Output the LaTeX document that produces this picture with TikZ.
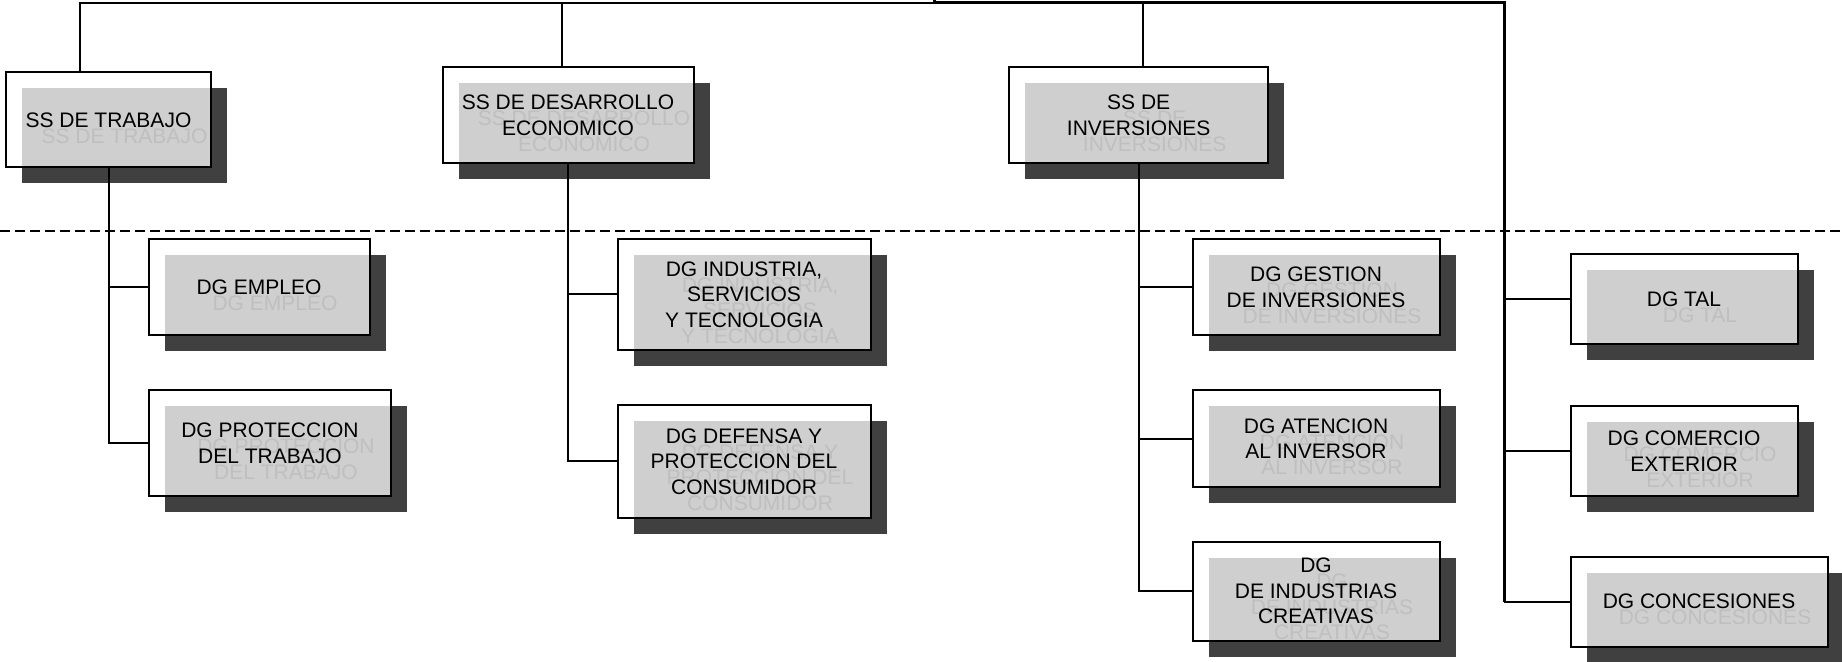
\documentclass[tikz,border=0pt]{standalone}
\usepackage{fontspec}
\setmainfont{Liberation Sans}
\usetikzlibrary{calc}

\tikzset{
    orgbox/.style={draw, line width=1pt, fill=white, fill opacity=0.75, text opacity=1,
        align=center, inner sep=0pt, font=\fontsize{10.5}{12.8}\selectfont},
    orgshadow/.style={fill=black!75, text=black, align=center, inner sep=0pt,
        font=\fontsize{10.5}{12.8}\selectfont},
    link/.style={line width=1pt},
    trunk/.style={line width=1.5pt},
    sep/.style={line width=1pt, dash pattern=on 5pt off 2.5pt}
}

\begin{document}
\begin{tikzpicture}[x=0.5pt, y=-0.5pt]
    \useasboundingbox (0,0) rectangle (1842,662);

    % boxes: name / centre / size / text
    \foreach \n/\x/\y/\w/\h/\txt in {
        trab/108.5/120/205/95/{SS DE TRABAJO},
        des/568/115.5/251/96/{SS DE DESARROLLO\\ECONOMICO},
        inv/1138.7/115.5/259/96/{SS DE\\INVERSIONES},
        emp/259/287/221/96/{DG EMPLEO},
        prot/270/443/242/106/{DG PROTECCION\\DEL TRABAJO},
        ind/744/294.5/253/111/{DG INDUSTRIA,\\SERVICIOS\\Y TECNOLOGIA},
        def/744/461.5/253/112/{DG DEFENSA Y\\PROTECCION DEL\\CONSUMIDOR},
        ges/1316/287/247/96/{DG GESTION\\DE INVERSIONES},
        ate/1316/438.7/247/97/{DG ATENCION\\AL INVERSOR},
        cre/1316/591/247/99/{DG\\DE INDUSTRIAS\\CREATIVAS},
        tal/1684/299.2/227/90/{DG TAL},
        com/1684/451/227/90/{DG COMERCIO\\EXTERIOR},
        con/1699/601.7/257/90/{DG CONCESIONES}}{
        \node[orgshadow, minimum width=\w*0.5pt, minimum height=\h*0.5pt] at (\x+16,\y+16) {\txt};
        \node[orgbox, minimum width=\w*0.5pt, minimum height=\h*0.5pt] (\n) at (\x,\y) {\txt};
    }

    \draw[sep] (0,230.7) -- (1842,230.7);

    % top bar
    \coordinate (root) at (934,0);
    \coordinate (bar) at (934,3);
    \draw[link] (bar) -| ($(trab.north)+(-28.5,0)$);
    \draw[link] (bar) -| ($(des.north)+(-6,0)$);
    \draw[link] (bar) -| ($(inv.north)+(4.3,0)$);
    \draw[trunk] (root) -- (bar) -| ($(con.west)+(-65.3,0)$);

    \draw[link] (trab.south) |- (prot.west);
    \draw[link] (trab.south |- emp.west) -- (emp.west);
    \draw[link] (des.south) |- (def.west);
    \draw[link] (des.south |- ind.west) -- (ind.west);
    \draw[link] (inv.south) |- (cre.west);
    \draw[link] (inv.south |- ges.west) -- (ges.west);
    \draw[link] (inv.south |- ate.west) -- (ate.west);
    \draw[link] (tal.west) -- ++(-65.3,0);
    \draw[link] (com.west) -- ++(-65.3,0);
    \draw[link] (con.west) -- ++(-65.3,0);
\end{tikzpicture}
\end{document}
